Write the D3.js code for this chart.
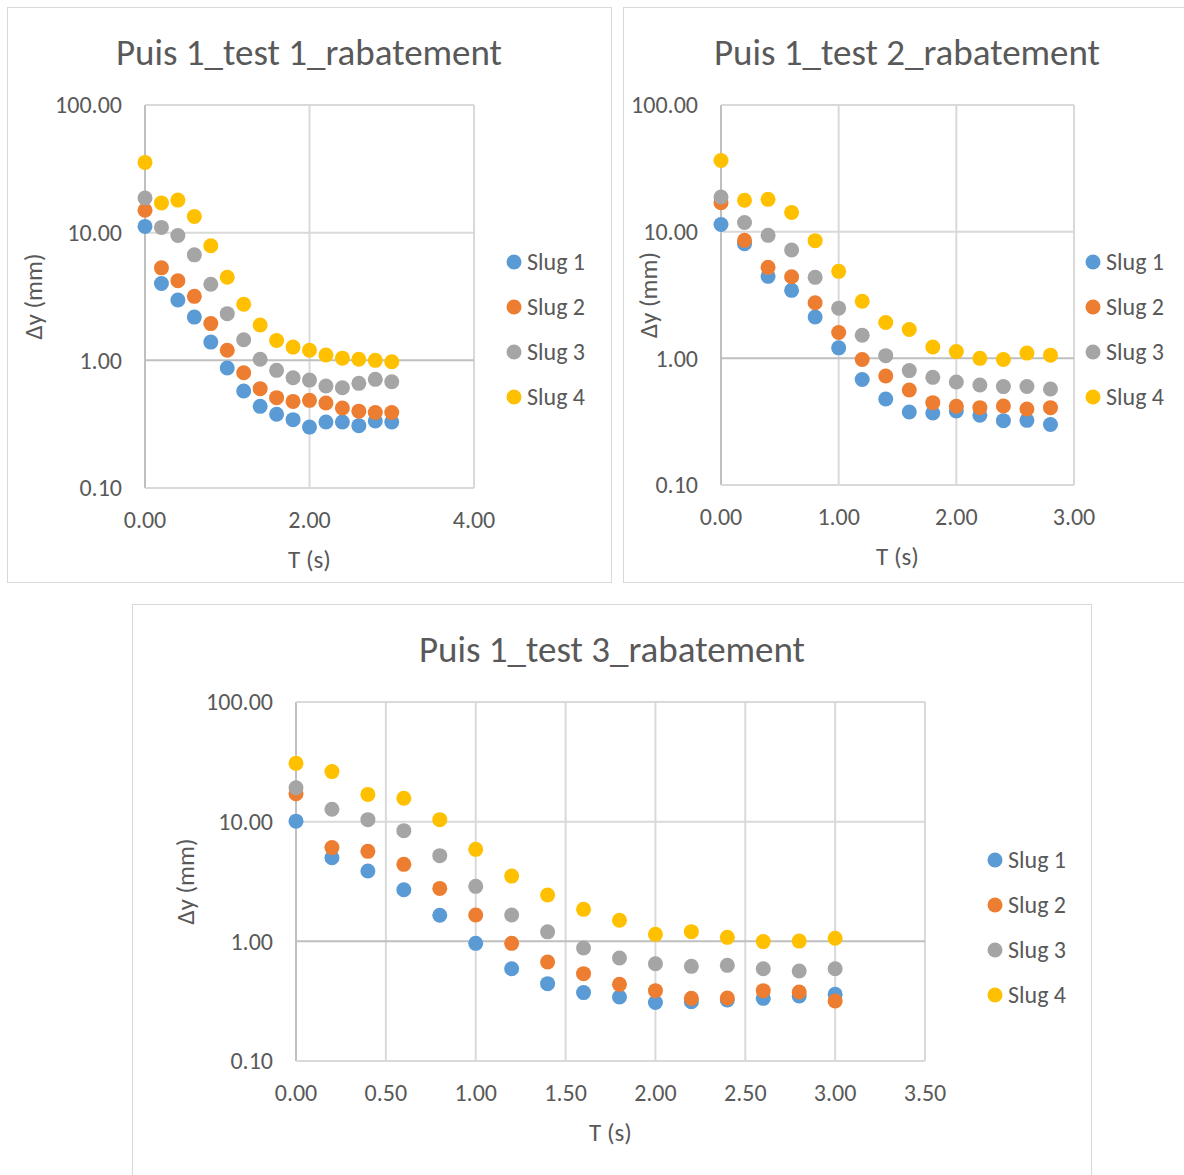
<!DOCTYPE html>
<html>
<head>
<meta charset="utf-8">
<script src="https://cdn.jsdelivr.net/npm/d3@7"></script>
<style>
  body { margin: 0; background: #fff; }
  text { font-family: Carlito, Calibri, "Open Sans", sans-serif; fill: #595959; }
</style>
</head>
<body>
<svg id="chart" width="1184" height="1175"></svg>
<script>
// --- data ---
var seriesNames = ['Slug 1', 'Slug 2', 'Slug 3', 'Slug 4'];
var seriesColors = ['#5b9bd5', '#ed7d31', '#a5a5a5', '#ffc000'];
var yTicks = [0.1, 1, 10, 100];

// test 1
var t1 = [0, 0.2, 0.4, 0.6, 0.8, 1.0, 1.2, 1.4, 1.6, 1.8, 2.0, 2.2, 2.4, 2.6, 2.8, 3.0];
var t1Slug1 = [11.2, 4.0, 2.97, 2.18, 1.39, 0.87, 0.575, 0.436, 0.378, 0.343, 0.30, 0.329, 0.329, 0.308, 0.335, 0.329];
var t1Slug2 = [15.0, 5.3, 4.2, 3.17, 1.94, 1.20, 0.80, 0.60, 0.51, 0.477, 0.486, 0.463, 0.423, 0.40, 0.39, 0.39];
var t1Slug3 = [18.7, 11.0, 9.5, 6.7, 3.94, 2.32, 1.45, 1.02, 0.835, 0.73, 0.70, 0.63, 0.61, 0.66, 0.71, 0.68];
var t1Slug4 = [35.5, 17.1, 18.0, 13.4, 7.9, 4.47, 2.75, 1.89, 1.43, 1.27, 1.20, 1.10, 1.04, 1.02, 1.00, 0.976];
var xTicks1 = [0, 2, 4];

// test 2
var t2 = [0, 0.2, 0.4, 0.6, 0.8, 1.0, 1.2, 1.4, 1.6, 1.8, 2.0, 2.2, 2.4, 2.6, 2.8];
var t2Slug1 = [11.4, 8.04, 4.44, 3.44, 2.12, 1.21, 0.68, 0.477, 0.377, 0.37, 0.384, 0.355, 0.322, 0.324, 0.30];
var t2Slug2 = [16.9, 8.54, 5.23, 4.41, 2.75, 1.60, 0.98, 0.725, 0.562, 0.447, 0.418, 0.408, 0.42, 0.398, 0.408];
var t2Slug3 = [18.8, 11.8, 9.35, 7.16, 4.36, 2.49, 1.52, 1.05, 0.80, 0.708, 0.65, 0.616, 0.598, 0.60, 0.573];
var t2Slug4 = [36.5, 17.7, 18.0, 14.2, 8.49, 4.86, 2.82, 1.92, 1.69, 1.23, 1.13, 1.00, 0.98, 1.10, 1.06];
var xTicks2 = [0, 1, 2, 3];

// test 3
var t3 = [0, 0.2, 0.4, 0.6, 0.8, 1.0, 1.2, 1.4, 1.6, 1.8, 2.0, 2.2, 2.4, 2.6, 2.8, 3.0];
var t3Slug1 = [10.1, 5.0, 3.87, 2.70, 1.65, 0.962, 0.59, 0.443, 0.373, 0.343, 0.308, 0.313, 0.323, 0.334, 0.349, 0.361];
var t3Slug2 = [17.1, 6.07, 5.65, 4.40, 2.77, 1.66, 0.962, 0.672, 0.537, 0.437, 0.387, 0.334, 0.336, 0.387, 0.377, 0.317];
var t3Slug3 = [19.2, 12.7, 10.4, 8.41, 5.2, 2.88, 1.66, 1.20, 0.88, 0.726, 0.65, 0.618, 0.63, 0.59, 0.565, 0.59];
var t3Slug4 = [30.7, 26.2, 16.9, 15.7, 10.4, 5.87, 3.51, 2.44, 1.85, 1.50, 1.144, 1.205, 1.08, 0.995, 1.005, 1.06];
var xTicks3 = [0, 0.5, 1, 1.5, 2, 2.5, 3, 3.5];

var svg = d3.select('#chart');
var fmt = d3.format('.2f');

function drawChart(c) {
  var g = svg.append('g');

  // chart frame
  g.append('rect')
    .attr('x', c.box[0] + 0.5).attr('y', c.box[1] + 0.5)
    .attr('width', c.box[2]).attr('height', c.box[3])
    .attr('fill', '#fff').attr('stroke', '#d9d9d9');

  var x = d3.scaleLinear().domain([0, d3.max(c.xTicks)]).range([c.left, c.right]);
  var y = d3.scaleLog().domain([0.1, 100]).range([c.bottom, c.top]);

  // gridlines (x axis crosses at 1.00 on the log scale)
  g.selectAll('.vgrid').data(c.xTicks).enter().append('line')
    .attr('x1', function(d) { return x(d); }).attr('x2', function(d) { return x(d); })
    .attr('y1', c.top).attr('y2', c.bottom)
    .attr('stroke', function(d) { return d === 0 ? '#bfbfbf' : '#d9d9d9'; })
    .attr('stroke-width', 2);
  g.selectAll('.hgrid').data(yTicks).enter().append('line')
    .attr('x1', c.left).attr('x2', c.right)
    .attr('y1', function(d) { return y(d); }).attr('y2', function(d) { return y(d); })
    .attr('stroke', function(d) { return d === 1 ? '#bfbfbf' : '#d9d9d9'; })
    .attr('stroke-width', 2);

  // tick labels
  g.selectAll('.ylab').data(yTicks).enter().append('text')
    .attr('x', c.left - 23).attr('y', function(d) { return y(d); })
    .attr('dy', '0.35em')
    .attr('text-anchor', 'end').attr('font-size', 24)
    .text(function(d) { return fmt(d); });
  g.selectAll('.xlab').data(c.xTicks).enter().append('text')
    .attr('x', function(d) { return x(d); }).attr('y', c.bottom + 32)
    .attr('dy', '0.35em')
    .attr('text-anchor', 'middle').attr('font-size', 24)
    .text(function(d) { return fmt(d); });

  // axis titles and chart title
  g.append('text')
    .attr('x', (c.left + c.right) / 2).attr('y', c.bottom + 71)
    .attr('dy', '0.35em')
    .attr('text-anchor', 'middle').attr('font-size', 25)
    .text('T (s)');
  g.append('text')
    .attr('transform', 'translate(' + c.yTitleX + ',' + ((c.top + c.bottom) / 2) + ') rotate(-90)')
    .attr('dy', '0.35em')
    .attr('text-anchor', 'middle').attr('font-size', 25)
    .text('Δy (mm)');
  g.append('text')
    .attr('x', c.titleX).attr('y', c.box[1] + 45)
    .attr('dy', '0.35em')
    .attr('text-anchor', 'middle').attr('font-size', 37)
    .text(c.title);

  // points
  c.series.forEach(function(vals, si) {
    g.selectAll('.pt' + si).data(vals).enter().append('circle')
      .attr('cx', function(d, i) { return x(c.times[i]); })
      .attr('cy', function(d) { return y(d); })
      .attr('r', 7.5)
      .attr('fill', seriesColors[si]);
  });

  // legend
  var lg = g.selectAll('.leg').data(seriesNames).enter().append('g')
    .attr('transform', function(d, i) { return 'translate(' + c.legendX + ',' + (c.legendY + i * 45) + ')'; });
  lg.append('circle').attr('r', 7.5).attr('fill', function(d, i) { return seriesColors[i]; });
  lg.append('text').attr('x', 13).attr('dy', '0.35em').attr('font-size', 24)
    .text(function(d) { return d; });
}

drawChart({
  box: [7, 7, 604, 575], left: 145, right: 474, top: 105, bottom: 488,
  xTicks: xTicks1, times: t1, series: [t1Slug1, t1Slug2, t1Slug3, t1Slug4],
  title: 'Puis 1_test 1_rabatement', titleX: 309,
  yTitleX: 33, legendX: 514, legendY: 262
});
drawChart({
  box: [623, 7, 580, 575], left: 721, right: 1074, top: 105, bottom: 485,
  xTicks: xTicks2, times: t2, series: [t2Slug1, t2Slug2, t2Slug3, t2Slug4],
  title: 'Puis 1_test 2_rabatement', titleX: 907,
  yTitleX: 648, legendX: 1093, legendY: 262
});
drawChart({
  box: [132, 604, 959, 590], left: 296, right: 925, top: 702, bottom: 1061,
  xTicks: xTicks3, times: t3, series: [t3Slug1, t3Slug2, t3Slug3, t3Slug4],
  title: 'Puis 1_test 3_rabatement', titleX: 612,
  yTitleX: 185, legendX: 995, legendY: 860
});
</script>
</body>
</html>
